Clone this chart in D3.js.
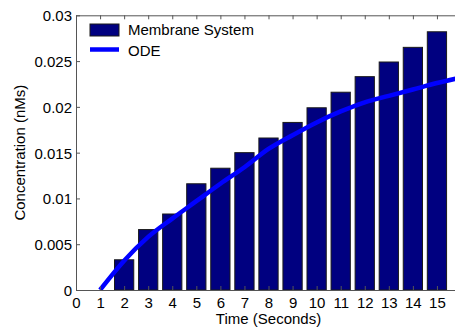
<!DOCTYPE html>
<html>
<head>
<meta charset="utf-8">
<script src="https://cdn.jsdelivr.net/npm/d3@7"></script>
<style>
  body { margin: 0; background: #fff; }
  svg { display: block; font-family: "Liberation Sans", Arial, sans-serif; }
  .axis text { font-size: 15px; fill: #000; }
  .axis path, .axis line { stroke: #555; }
</style>
</head>
<body>
<script>
// bar data (membrane system), one bar per second
const barTimes = [2, 3, 4, 5, 6, 7, 8, 9, 10, 11, 12, 13, 14, 15];
const barValues = [0.0033, 0.0066, 0.0083, 0.0116, 0.0133, 0.0150, 0.0166,
  0.0183, 0.0199, 0.0216, 0.0233, 0.0249, 0.0265, 0.0282];

// ODE curve
const odeTimes = [1, 2, 3, 4, 5, 6, 7, 8, 9, 10, 11, 12, 13, 14, 15, 16];
const odeValues = [0, 0.0032, 0.0058, 0.0078, 0.0097, 0.0116, 0.0134, 0.0154,
  0.0169, 0.0183, 0.0195, 0.0205, 0.0212, 0.0219, 0.0226, 0.0232];

const xTicks = d3.range(0, 16);
const yTicks = [0, 0.005, 0.01, 0.015, 0.02, 0.025, 0.03];
const legendLabels = ['Membrane System', 'ODE'];

const width = 455, height = 327;
const margin = { top: 15.3, right: -6, bottom: 37, left: 76 };

const svg = d3.select('body').append('svg')
  .attr('width', width)
  .attr('height', height);

const x = d3.scaleLinear().domain([0, 16])
  .range([margin.left, width - margin.right]);
const y = d3.scaleLinear().domain([0, 0.03])
  .range([height - margin.bottom, margin.top]);

svg.append('defs').append('clipPath').attr('id', 'plot')
  .append('rect')
  .attr('x', x(0)).attr('y', y(0.03))
  .attr('width', x(16) - x(0)).attr('height', y(0) - y(0.03));

const bw = (x(1) - x(0)) * 0.8;

// bars
svg.append('g')
  .selectAll('rect')
  .data(barTimes)
  .join('rect')
  .attr('x', (d) => x(d) - bw / 2)
  .attr('y', (d, i) => y(barValues[i]))
  .attr('width', bw)
  .attr('height', (d, i) => y(0) - y(barValues[i]))
  .attr('fill', '#000080')
  .attr('stroke', '#1a1a1a')
  .attr('stroke-width', 1);

// ode line
const line = d3.line()
  .x((d) => x(d))
  .y((d, i) => y(odeValues[i]))
  .curve(d3.curveMonotoneX);

svg.append('path')
  .datum(odeTimes)
  .attr('clip-path', 'url(#plot)')
  .attr('d', line)
  .attr('fill', 'none')
  .attr('stroke', '#0000ff')
  .attr('stroke-width', 4.5);

// axes (box with inward ticks)
const yFmt = (d) => (d === 0 ? '0' : String(+d.toFixed(3)));

svg.append('g').attr('class', 'axis')
  .attr('transform', `translate(0,${y(0)})`)
  .call(d3.axisBottom(x).tickValues(xTicks).tickSize(-4).tickPadding(7).tickSizeOuter(0));

svg.append('g').attr('class', 'axis')
  .attr('transform', `translate(0,${y(0.03)})`)
  .call(d3.axisTop(x).tickValues(xTicks).tickSize(-4).tickSizeOuter(0).tickFormat(''));

svg.append('g').attr('class', 'axis')
  .attr('transform', `translate(${x(0)},0)`)
  .call(d3.axisLeft(y).tickValues(yTicks).tickSize(-4).tickPadding(4).tickSizeOuter(0).tickFormat(yFmt))
  .selectAll('text').attr('dy', '0.36em');

svg.append('g').attr('class', 'axis')
  .attr('transform', `translate(${x(16)},0)`)
  .call(d3.axisRight(y).tickValues(yTicks).tickSize(-4).tickSizeOuter(0).tickFormat(''));

svg.selectAll('.axis').attr('font-family', null).attr('font-size', null);

// axis labels
svg.append('text')
  .attr('x', (x(0) + x(16)) / 2)
  .attr('y', 324)
  .attr('text-anchor', 'middle')
  .style('font-size', '15px')
  .text('Time (Seconds)');

svg.append('text')
  .attr('transform', `translate(24.5,${(y(0) + y(0.03)) / 2}) rotate(-90)`)
  .attr('text-anchor', 'middle')
  .style('font-size', '15px')
  .text('Concentration (nMs)');

// legend
const lg = svg.append('g');
lg.append('rect')
  .attr('x', 90).attr('y', 24)
  .attr('width', 29).attr('height', 12)
  .attr('fill', '#000080')
  .attr('stroke', '#1a1a1a');
lg.append('line')
  .attr('x1', 90).attr('x2', 119)
  .attr('y1', 49.5).attr('y2', 49.5)
  .attr('stroke', '#0000ff')
  .attr('stroke-width', 4.5);
lg.selectAll('text')
  .data(legendLabels)
  .join('text')
  .attr('x', 128)
  .attr('y', (d, i) => 35 + i * 21)
  .style('font-size', '15px')
  .text((d) => d);
</script>
</body>
</html>
